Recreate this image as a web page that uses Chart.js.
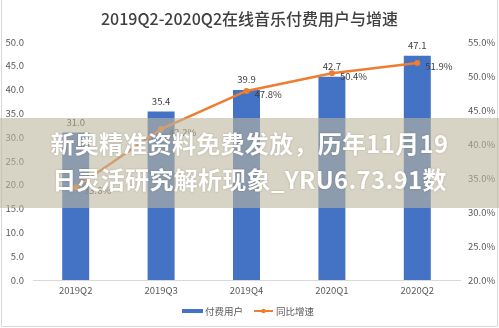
<!DOCTYPE html>
<html>
<head>
<meta charset="utf-8">
<script src="https://cdn.jsdelivr.net/npm/chart.js@4"></script>
<style>
    html, body { margin:0; padding:0; background:#ffffff; }
    #wrap { position:relative; width:499px; height:328px; overflow:hidden; }
    #chartMusica { display:block; }
    #banda {
        position:absolute; left:0; top:118px; width:499px; height:90px;
        background:rgba(188,183,158,0.6);
    }
    #marca {
        position:absolute; left:0; top:125px; width:499px;
        text-align:center; color:#ffffff;
        font-family:"Noto Sans CJK SC", sans-serif; font-weight:700;
        font-size:24px; line-height:36px; letter-spacing:0.3px;
        text-shadow:0 0 2px rgba(80,70,50,0.35);
    }
</style>
</head>
<body>
<div id="wrap">
    <canvas id="chartMusica" width="499" height="328"></canvas>
    <div id="banda"></div>
    <div id="marca">新奥精准资料免费发放，历年11月19<br>日灵活研究解析现象_YRU6.73.91数</div>
</div>
<script>
/*
==========================================
DATOS
==========================================
*/

const trimestres = ["2019Q2","2019Q3","2019Q4","2020Q1","2020Q2"];

const usuariosPago = [31.0, 35.4, 39.9, 42.7, 47.1];

const crecimiento = [33.6, 42.2, 47.8, 50.4, 51.9];

const titulo = "2019Q2-2020Q2在线音乐付费用户与增速";

const nombresSeries = ["付费用户","同比增速"];

const AZUL = "#4472c4";
const NARANJA = "#ed7d31";
const FUENTE = "'Noto Sans CJK SC', sans-serif";

/*
==========================================
ETIQUETAS DE DATOS
==========================================
*/

const pluginEtiquetas = {

    id:"etiquetas",

    afterDatasetsDraw(chart){

        const ctx = chart.ctx;

        ctx.save();
        ctx.font = "9.5px " + FUENTE;
        ctx.fillStyle = "#404040";
        ctx.textBaseline = "middle";

        const barras = chart.getDatasetMeta(0).data;
        ctx.textAlign = "center";
        barras.forEach((el, i) => {
            ctx.fillText(usuariosPago[i].toFixed(1), el.x, el.y - 10.5);
        });

        const puntos = chart.getDatasetMeta(1).data;
        ctx.textAlign = "left";
        puntos.forEach((el, i) => {
            ctx.fillText(crecimiento[i].toFixed(1) + "%", el.x + 8, el.y + 3);
        });

        ctx.restore();

    }

};

/*
==========================================
LEYENDA Y BORDE
==========================================
*/

const pluginLeyenda = {

    id:"leyenda",

    afterDraw(chart){

        const ctx = chart.ctx;
        const y = 311;

        ctx.save();

        // borde del grafico
        ctx.strokeStyle = "#d9d9d9";
        ctx.lineWidth = 1;
        ctx.beginPath();
        ctx.moveTo(1.5, 0);
        ctx.lineTo(1.5, 326.5);
        ctx.lineTo(497.5, 326.5);
        ctx.lineTo(497.5, 0);
        ctx.stroke();

        ctx.font = "9.5px " + FUENTE;
        ctx.fillStyle = "#595959";
        ctx.textBaseline = "middle";
        ctx.textAlign = "left";

        ctx.fillStyle = AZUL;
        ctx.fillRect(182, y - 2, 21, 4);
        ctx.fillStyle = "#595959";
        ctx.fillText(nombresSeries[0], 205, y);

        ctx.strokeStyle = NARANJA;
        ctx.lineWidth = 2;
        ctx.beginPath();
        ctx.moveTo(254, y);
        ctx.lineTo(273, y);
        ctx.stroke();
        ctx.fillStyle = NARANJA;
        ctx.beginPath();
        ctx.arc(263.5, y, 2.2, 0, Math.PI * 2);
        ctx.fill();
        ctx.fillStyle = "#595959";
        ctx.fillText(nombresSeries[1], 276, y);

        ctx.restore();

    }

};

/*
==========================================
GRAFICA
==========================================
*/

const canvas = document.getElementById("chartMusica");

const chartMusica = new Chart(canvas, {

    data:{

        labels:trimestres,

        datasets:[

            {
                type:"bar",
                label:nombresSeries[0],
                data:usuariosPago,
                backgroundColor:AZUL,
                yAxisID:"y",
                categoryPercentage:1,
                barPercentage:0.316,
                order:2
            },

            {
                type:"line",
                label:nombresSeries[1],
                data:crecimiento,
                borderColor:NARANJA,
                backgroundColor:NARANJA,
                borderWidth:2.5,
                pointRadius:3,
                pointBorderWidth:0,
                tension:0,
                yAxisID:"y1",
                order:1
            }

        ]

    },

    options:{

        responsive:false,
        animation:false,

        layout:{
            padding:{ left:0, right:0, top:0, bottom:28 }
        },

        plugins:{

            legend:{ display:false },

            tooltip:{ enabled:false },

            title:{
                display:true,
                text:titulo,
                color:"#404040",
                font:{ family:FUENTE, size:16, weight:"500" },
                padding:{ top:9, bottom:13.8 }
            }

        },

        scales:{

            x:{
                grid:{ display:false, drawTicks:false },
                border:{ display:true, color:"#d9d9d9" },
                ticks:{
                    color:"#595959",
                    padding:5,
                    font:{ family:FUENTE, size:9.5 }
                },
                afterFit(scale){ scale.height = 20; }
            },

            y:{
                position:"left",
                min:0,
                max:50,
                grid:{ display:false, drawTicks:false },
                border:{ display:false },
                ticks:{
                    stepSize:5,
                    color:"#595959",
                    padding:9,
                    font:{ family:FUENTE, size:9.5 },
                    callback:(v) => v.toFixed(1)
                },
                afterFit(scale){ scale.width = 33; }
            },

            y1:{
                position:"right",
                min:20,
                max:55,
                grid:{ display:false, drawTicks:false },
                border:{ display:false },
                ticks:{
                    stepSize:5,
                    color:"#595959",
                    padding:8,
                    font:{ family:FUENTE, size:9.5 },
                    callback:(v) => v.toFixed(1) + "%"
                },
                afterFit(scale){ scale.width = 39; }
            }

        }

    },

    plugins:[pluginEtiquetas, pluginLeyenda]

});
</script>
</body>
</html>
